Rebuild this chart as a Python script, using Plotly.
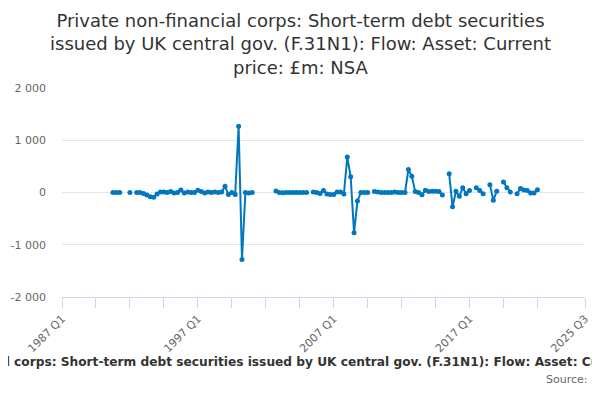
import plotly.graph_objects as go

# quarters 1987 Q1 .. 2025 Q3
years = list(range(1987, 2026))
quarters = ["Q1", "Q2", "Q3", "Q4"]
categories = [f"{y} {q}" for y in years for q in quarters][:155]

# £m, None = no data
values = (
    [None] * 15
    + [0, 0, 0, None, None, 0, None]
    + [0, 0, -20, -50, -80, -90, -30, 10, 10, 0, 20, -10, 0, 50, -10, 10, 0, 0,
       45, 20, -10, 10, 0, 10, 0, 10, 120, -40, 0, -40, 1270, -1280, 0, -10, 0]
    + [None] * 6
    + [30, 0, -5, 0, 0, 0, 0, 0, 0, 0]
    + [None]
    + [10, 0, -20, 40, -30, -40, -40, 10, 10, -30]
    + [680, 300, -770, -165, 0, 0, 0]
    + [None]
    + [20, 10, 0, 0, 0, 0, 10, 0, 0, 0]
    + [440, 310, 20, 0, -45, 45, 20, 25, 25, 20, -50]
    + [None]
    + [357, -274, 25, -70, 90, -25, 40]
    + [None]
    + [90, 40, -25]
    + [None]
    + [150, -150, 25]
    + [None]
    + [200, 90, 10]
    + [None]
    + [-25, 75, 50, 40, -10, -10, 55]
)
values = values + [None] * (len(categories) - len(values))

title = ("Private non-financial corps: Short-term debt securities<br>"
         "issued by UK central gov. (F.31N1): Flow: Asset: Current<br>"
         "price: £m: NSA")
series_name = ("Private non-financial corps: Short-term debt securities issued by UK "
               "central gov. (F.31N1): Flow: Asset: Current price: £m: NSA")

tick_idx = list(range(0, 141, 10)) + [154]
tick_text = [categories[i] if i in (0, 40, 80, 120, 154) else "" for i in tick_idx]

# page body has an 8px margin, so the figure starts at (8, 8) on screen
OFF = 8

# plot area on screen: x 62..585, y 88..297
def px_x(p):
    return (p - 62) / 523

def px_y(p):
    return (297 - p) / 209

fig = go.Figure()
fig.add_trace(go.Scatter(
    x=categories, y=values, mode="lines+markers",
    line=dict(color="#0077c0", width=2),
    marker=dict(color="#0077c0", size=5),
    connectgaps=False, name=series_name, showlegend=False,
))

fig.update_layout(
    width=600, height=400,
    margin=dict(l=62 - OFF, r=600 - 585 + OFF, t=88 - OFF, b=400 - 297 + OFF),
    paper_bgcolor="white", plot_bgcolor="white",
    font=dict(family="DejaVu Sans", color="#666666", size=11),
)
fig.update_xaxes(
    type="category", range=[0, 154], automargin=False,
    tickmode="array", tickvals=[categories[i] for i in tick_idx], ticktext=tick_text,
    tickangle=-45, ticks="outside", ticklen=10, tickcolor="#ccd6eb",
    showline=True, linecolor="#ccd6eb", showgrid=False,
    tickfont=dict(size=11, color="#666666"),
)
fig.update_yaxes(
    range=[-2000, 2000], tickvals=[-2000, -1000, 0, 1000, 2000], automargin=False,
    ticktext=["-2 000", "-1 000", "0", "1 000", "2 000"],
    showgrid=True, gridcolor="#e6e6e6", zeroline=False, showline=False,
    ticklabelstandoff=15, tickfont=dict(size=11, color="#666666"),
)

fig.add_annotation(text=title, x=px_x(300), y=px_y(8), xref="paper", yref="paper",
                   showarrow=False, xanchor="center", yanchor="top", align="center",
                   font=dict(size=18, color="#333333", family="DejaVu Sans"))
fig.add_annotation(text="<b>" + series_name + "</b>", x=px_x(304), y=px_y(362),
                   xref="paper", yref="paper",
                   showarrow=False, xanchor="center", yanchor="middle",
                   font=dict(size=12.2, color="#333333", family="DejaVu Sans"))
fig.add_annotation(text="Source:", x=px_x(590), y=px_y(379), xref="paper", yref="paper",
                   showarrow=False, xanchor="right", yanchor="middle",
                   font=dict(size=11, color="#666666"))

fig.write_html("out.html")
